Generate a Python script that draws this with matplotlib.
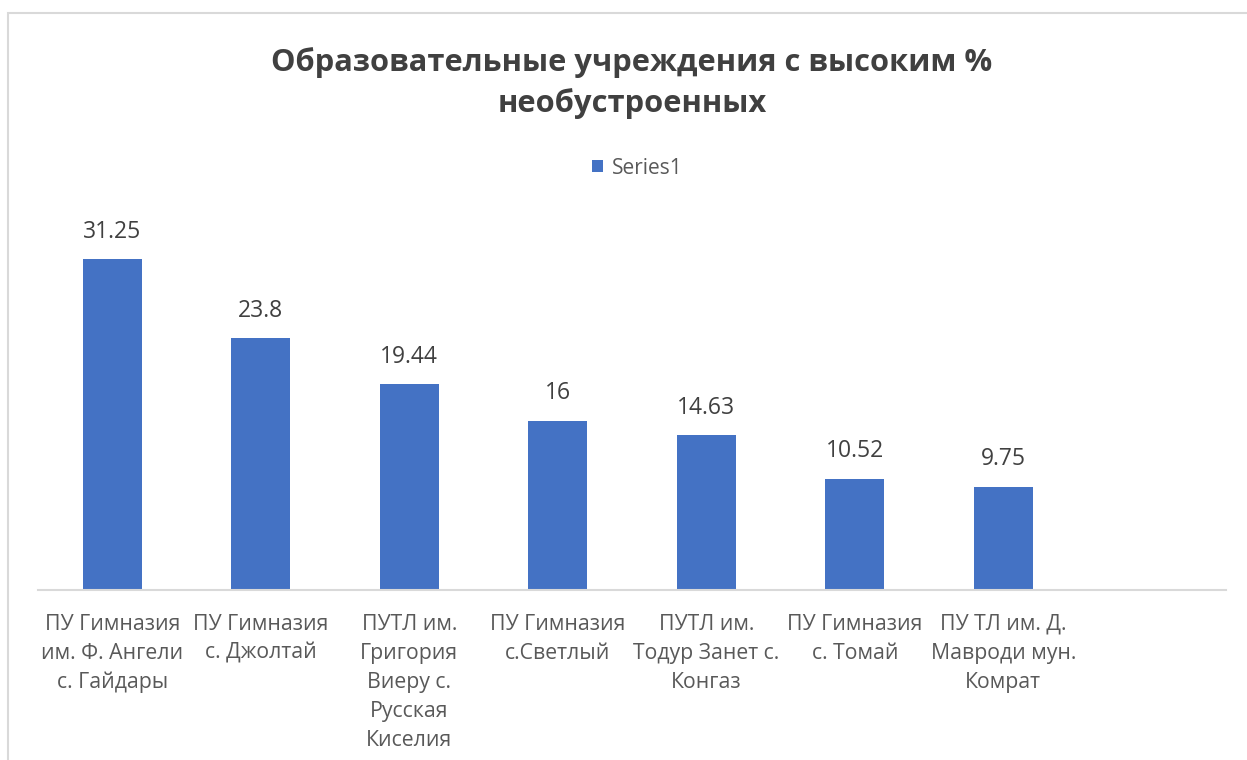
#!/usr/bin/env python3
import matplotlib
matplotlib.use('Agg')
import matplotlib.pyplot as plt
from matplotlib.patches import Rectangle

categories = [
  'ПУ Гимназия\nим. Ф. Ангели\nс. Гайдары',
  'ПУ Гимназия\nс. Джолтай',
  'ПУТЛ им.\nГригория\nВиеру с.\nРусская\nКиселия',
  'ПУ Гимназия\nс.Светлый',
  'ПУТЛ им.\nТодур Занет с.\nКонгаз',
  'ПУ Гимназия\nс. Томай',
  'ПУ ТЛ им. Д.\nМавроди мун.\nКомрат',
  '',
]
values = [31.25, 23.8, 19.44, 16, 14.63, 10.52, 9.75, None]
value_labels = ['31.25', '23.8', '19.44', '16', '14.63', '10.52', '9.75']
series_name = 'Series1'
title = 'Образовательные учреждения с высоким %\nнеобустроенных'

BLUE = '#4472C4'
GRAY = '#595959'
plt.rcParams['font.family'] = ['Open Sans', 'DejaVu Sans']

W, H = 1247, 760
fig = plt.figure(figsize=(W/100, H/100), dpi=100)

# light border of the chart area (cropped at right/bottom)
fig.patches.append(Rectangle((8/W, -0.05), 1.1, (H-13)/H + 0.05, transform=fig.transFigure,
                             fill=False, edgecolor='#D9D9D9', linewidth=1.5))

ax = fig.add_axes([38/W, 170/H, (1226-38)/W, (590-219.4)/H])
xs = list(range(len(categories)))
heights = [v if v is not None else 0 for v in values]
bars = ax.bar(xs[:len(value_labels)], heights[:len(value_labels)], width=0.40, color=BLUE, label=series_name)
ax.set_xlim(-0.5, len(categories) - 0.5)
ax.set_ylim(0, 35)

for rect, lab in zip(bars, value_labels):
  ax.annotate(lab, (rect.get_x() + rect.get_width()/2, rect.get_height()),
              xytext=(0, 11), textcoords='offset points', ha='center', va='bottom',
              fontsize=16.5, color='#404040')

ax.set_xticks(xs)
ax.set_xticklabels(categories, fontsize=15.3, color=GRAY, linespacing=1.5)
ax.tick_params(axis='x', length=0, pad=17)
ax.set_yticks([])
for s in ['top', 'right', 'left']:
  ax.spines[s].set_visible(False)
ax.spines['bottom'].set_color('#D9D9D9')
ax.spines['bottom'].set_linewidth(1.5)

fig.text(632/W, 1 - 83/H, title, ha='center', va='center', fontsize=22.2, fontweight='bold',
         color='#404040', linespacing=1.4)

leg = fig.legend(handles=[bars], labels=[series_name], loc='center', bbox_to_anchor=(637/W, 1 - 168/H),
                 frameon=False, fontsize=15, handlelength=0.55, handleheight=0.55, handletextpad=0.4)
for t in leg.get_texts():
  t.set_color(GRAY)

fig.savefig('out.png', dpi=100)
